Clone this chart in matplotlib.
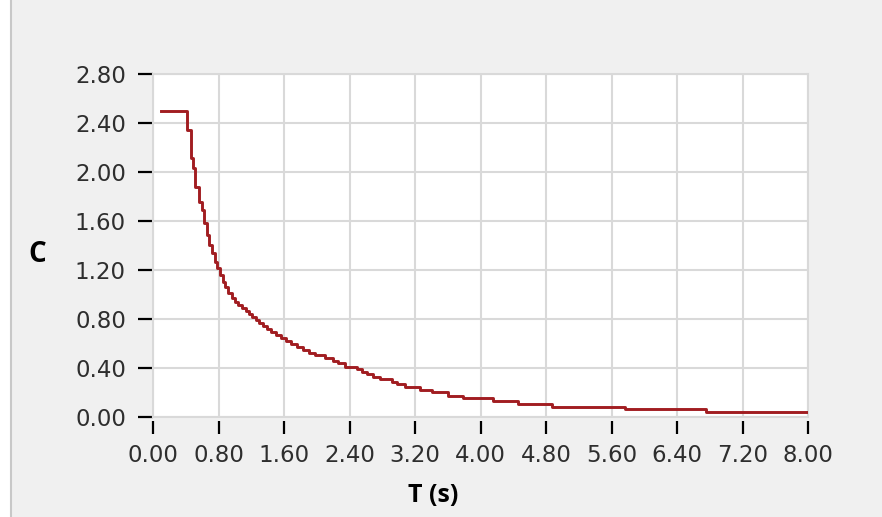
import matplotlib
matplotlib.use("Agg")
import matplotlib.pyplot as plt
from matplotlib.lines import Line2D
from matplotlib.patches import Rectangle

# Spectrum C(T), step corners
period = [0.10, 0.419, 0.460, 0.485, 0.513, 0.565, 0.595, 0.623, 0.656, 0.687,
          0.724, 0.753, 0.785, 0.818, 0.851, 0.883, 0.919, 0.961, 1.001, 1.042,
          1.087, 1.136, 1.172, 1.209, 1.252, 1.294, 1.343, 1.392, 1.447, 1.502,
          1.563, 1.624, 1.691, 1.758, 1.832, 1.905, 1.978, 2.100, 2.201, 2.263,
          2.344, 2.487, 2.548, 2.609, 2.690, 2.772, 2.915, 2.976, 3.077, 3.260,
          3.407, 3.602, 3.785, 4.151, 4.457, 4.872, 5.763, 6.752, 8.00]
coef = [2.500, 2.343, 2.113, 2.031, 1.876, 1.759, 1.691, 1.582, 1.487, 1.405,
        1.338, 1.269, 1.215, 1.161, 1.106, 1.060, 1.016, 0.971, 0.943, 0.916,
        0.892, 0.867, 0.843, 0.818, 0.794, 0.769, 0.745, 0.720, 0.696, 0.672,
        0.647, 0.622, 0.598, 0.574, 0.549, 0.527, 0.506, 0.481, 0.459, 0.440,
        0.413, 0.392, 0.372, 0.353, 0.331, 0.312, 0.290, 0.272, 0.245, 0.223,
        0.204, 0.176, 0.155, 0.133, 0.108, 0.084, 0.065, 0.043, 0.043]

x_ticks = [0.0, 0.8, 1.6, 2.4, 3.2, 4.0, 4.8, 5.6, 6.4, 7.2, 8.0]
y_ticks = [0.0, 0.4, 0.8, 1.2, 1.6, 2.0, 2.4, 2.8]

plt.rcParams['font.family'] = 'DejaVu Sans'

W, H = 882, 517
bg = '#f0f0f0'
gridc = '#d9d9d9'

fig = plt.figure(figsize=(W / 100, H / 100), dpi=100, facecolor=bg)

# left strip + frame line
fig.patches.append(Rectangle((0, 0), 10 / W, 1, transform=fig.transFigure,
                             facecolor='white', edgecolor='none'))
fig.lines.append(Line2D([10.5 / W, 10.5 / W], [0, 1], transform=fig.transFigure,
                        color='#c8c8c8', lw=1.5))

ax = fig.add_axes([153 / W, 1 - 417.3 / H, 655 / W, 343.3 / H])
ax.set_facecolor('white')

ax.plot(period, coef, drawstyle='steps-post', color='#a11d21', lw=2.1, zorder=3)

ax.set_xlim(0, 8)
ax.set_ylim(0, 2.8)
ax.set_xticks(x_ticks)
ax.set_yticks(y_ticks)
ax.set_xticklabels(['%.2f' % v for v in x_ticks])
ax.set_yticklabels(['%.2f' % v for v in y_ticks])

ax.grid(True, color=gridc, lw=1.5, zorder=0)
ax.set_axisbelow(True)
for s in ax.spines.values():
    s.set_color(gridc)
    s.set_linewidth(1.5)
ax.spines['bottom'].set_position(('outward', 3))
ax.spines['bottom'].set_visible(False)
ax.axhline(0, color=gridc, lw=1.5, clip_on=False, zorder=1)

ax.tick_params(axis='both', direction='out', color='black', width=1.6,
               labelsize=16.5, labelcolor='#2e2e2e')
ax.tick_params(axis='y', length=10.5, pad=9)
ax.tick_params(axis='x', length=9.5, pad=7)

fig.text(37 / W, 1 - 254 / H, 'C', fontsize=20, fontweight='bold',
         family='Open Sans', ha='center', va='center')
fig.text(433 / W, 1 - 496 / H, 'T (s)', fontsize=18, fontweight='bold',
         family='Open Sans', ha='center', va='center')

fig.savefig('out.png', dpi=100, facecolor=bg)
